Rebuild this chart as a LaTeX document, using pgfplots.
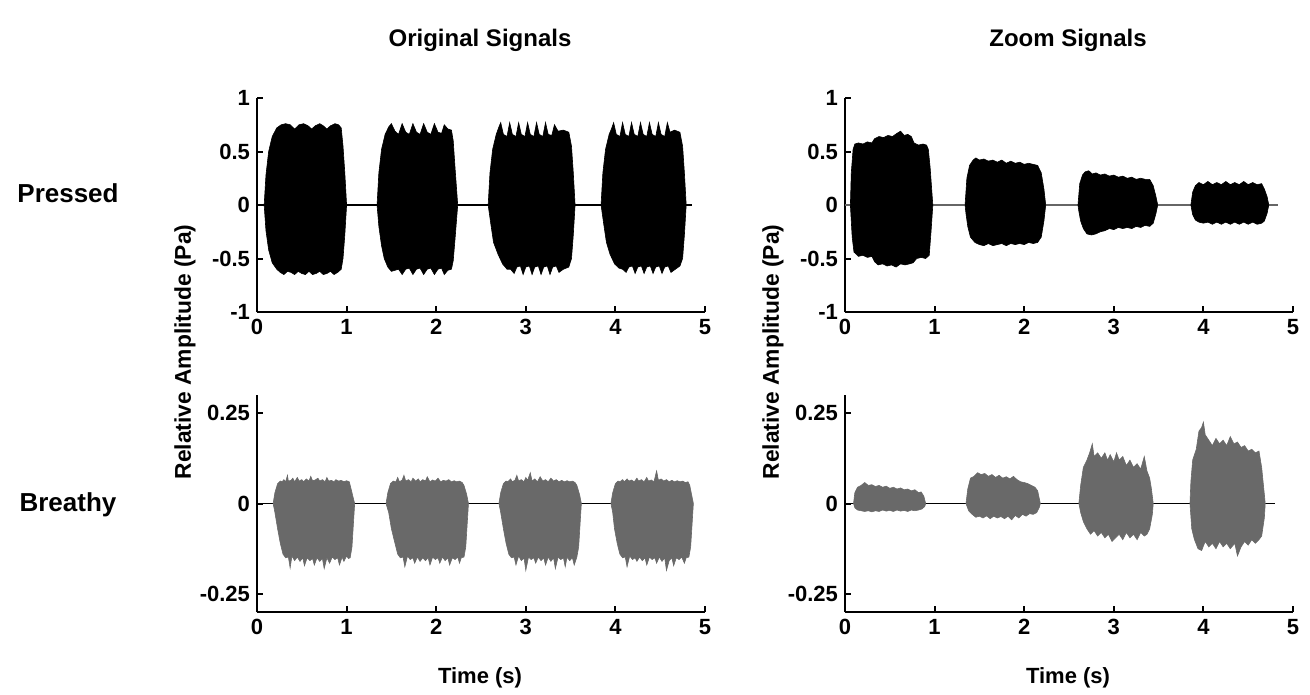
\documentclass[border=0pt]{standalone}
\usepackage{fontspec}
\setmainfont{Liberation Sans}
\usepackage{pgfplots}
\pgfplotsset{compat=1.18}

\definecolor{breathy}{RGB}{105,105,105}
\definecolor{baseline}{RGB}{170,170,170}

% 1 px of the reference = 0.5pt
\pgfplotsset{
  sig/.style={
    scale only axis,
    width=224pt,
    xmin=0, xmax=5,
    axis lines=left,
    axis line style={-, line width=1pt},
    tick align=inside,
    major tick length=3pt,
    tick style={line width=1pt, black},
    xtick={0,1,2,3,4,5},
    xticklabels={0,1,2,3,4,5},
    ticklabel style={font=\bfseries\fontsize{11}{13}\selectfont},
    clip=false,
  },
  pressed/.style={sig, height=107pt, ymin=-1, ymax=1,
    ytick={-1,-0.5,0,0.5,1}, yticklabels={-1,-0.5,0,0.5,1}},
  breathy/.style={sig, height=108.5pt, ymin=-0.3, ymax=0.3,
    ytick={-0.25,0,0.25}, yticklabels={-0.25,0,0.25}},
  env/.style={fill=#1, draw=#1, line width=0.3pt},
}

\begin{document}
\begin{tikzpicture}
\path (0,0) rectangle (655pt,-346pt);

% ---------------- Pressed, original ----------------
\begin{axis}[pressed, at={(128.5pt,-156pt)}]
\addplot[black, line width=0.75pt] coordinates {(0,0) (4.86,0)};
\addplot[env=black] coordinates {
(0.08,0)(0.10,0.28)(0.13,0.50)(0.17,0.64)(0.22,0.72)(0.27,0.75)(0.32,0.76)(0.37,0.75)(0.42,0.71)(0.47,0.75)(0.52,0.76)(0.57,0.74)(0.61,0.71)(0.65,0.74)(0.70,0.76)(0.74,0.74)(0.78,0.71)(0.82,0.74)(0.87,0.76)(0.91,0.75)(0.94,0.72)(0.96,0.55)(0.98,0.30)(1.00,0)
(0.98,-0.28)(0.96,-0.50)(0.94,-0.60)(0.90,-0.63)(0.86,-0.65)(0.82,-0.62)(0.78,-0.64)(0.74,-0.65)(0.70,-0.62)(0.66,-0.64)(0.62,-0.65)(0.58,-0.62)(0.54,-0.65)(0.50,-0.64)(0.46,-0.62)(0.42,-0.65)(0.38,-0.63)(0.34,-0.62)(0.30,-0.65)(0.26,-0.63)(0.22,-0.60)(0.17,-0.54)(0.13,-0.42)(0.10,-0.24)
} -- cycle;
\addplot[env=black] coordinates {
(1.34,0)(1.36,0.30)(1.39,0.52)(1.43,0.66)(1.47,0.73)(1.50,0.76)(1.54,0.69)(1.58,0.66)(1.62,0.76)(1.66,0.68)(1.70,0.66)(1.74,0.76)(1.78,0.68)(1.82,0.66)(1.86,0.76)(1.90,0.68)(1.94,0.66)(1.98,0.76)(2.02,0.68)(2.06,0.67)(2.09,0.75)(2.13,0.71)(2.17,0.70)(2.19,0.60)(2.21,0.35)(2.24,0)
(2.21,-0.32)(2.19,-0.52)(2.17,-0.60)(2.13,-0.61)(2.09,-0.65)(2.06,-0.59)(2.02,-0.60)(1.98,-0.65)(1.94,-0.59)(1.90,-0.60)(1.86,-0.65)(1.82,-0.59)(1.78,-0.60)(1.74,-0.65)(1.70,-0.59)(1.66,-0.60)(1.62,-0.65)(1.58,-0.60)(1.54,-0.61)(1.50,-0.62)(1.46,-0.58)(1.42,-0.50)(1.39,-0.38)(1.36,-0.20)
} -- cycle;
\addplot[env=black] coordinates {
(2.58,0)(2.60,0.30)(2.63,0.52)(2.67,0.66)(2.70,0.73)(2.72,0.77)(2.75,0.66)(2.79,0.64)(2.82,0.77)(2.85,0.66)(2.89,0.64)(2.92,0.77)(2.95,0.66)(2.99,0.64)(3.02,0.77)(3.05,0.66)(3.09,0.64)(3.12,0.77)(3.15,0.66)(3.19,0.64)(3.22,0.77)(3.25,0.66)(3.29,0.65)(3.32,0.75)(3.36,0.69)(3.42,0.70)(3.48,0.68)(3.51,0.55)(3.53,0.30)(3.55,0)
(3.53,-0.28)(3.51,-0.50)(3.48,-0.58)(3.42,-0.60)(3.37,-0.63)(3.34,-0.57)(3.30,-0.58)(3.27,-0.65)(3.24,-0.57)(3.20,-0.58)(3.17,-0.65)(3.14,-0.57)(3.10,-0.58)(3.07,-0.65)(3.04,-0.57)(3.00,-0.58)(2.97,-0.65)(2.94,-0.57)(2.90,-0.58)(2.87,-0.64)(2.83,-0.60)(2.79,-0.60)(2.74,-0.55)(2.69,-0.46)(2.64,-0.35)(2.61,-0.18)
} -- cycle;
\addplot[env=black] coordinates {
(3.84,0)(3.86,0.30)(3.89,0.52)(3.93,0.66)(3.96,0.72)(3.98,0.77)(4.01,0.66)(4.05,0.64)(4.08,0.77)(4.11,0.66)(4.15,0.64)(4.18,0.77)(4.21,0.66)(4.25,0.64)(4.28,0.77)(4.31,0.66)(4.35,0.64)(4.38,0.77)(4.41,0.66)(4.45,0.64)(4.48,0.77)(4.51,0.66)(4.55,0.64)(4.58,0.77)(4.61,0.68)(4.66,0.70)(4.72,0.68)(4.75,0.55)(4.77,0.30)(4.79,0)
(4.77,-0.28)(4.75,-0.50)(4.72,-0.57)(4.67,-0.60)(4.62,-0.63)(4.59,-0.57)(4.55,-0.58)(4.52,-0.64)(4.49,-0.57)(4.45,-0.58)(4.42,-0.64)(4.39,-0.57)(4.35,-0.58)(4.32,-0.64)(4.29,-0.57)(4.25,-0.58)(4.22,-0.64)(4.19,-0.57)(4.15,-0.58)(4.12,-0.63)(4.08,-0.60)(4.04,-0.59)(3.99,-0.55)(3.94,-0.46)(3.90,-0.35)(3.87,-0.18)
} -- cycle;
\end{axis}

% ---------------- Pressed, zoom ----------------
\begin{axis}[pressed, at={(422.5pt,-156pt)}]
\addplot[black!60, line width=0.75pt] coordinates {(0,0) (4.83,0)};
\addplot[env=black] coordinates {
(0.06,0)(0.07,0.30)(0.09,0.52)(0.11,0.57)(0.15,0.58)(0.20,0.57)(0.25,0.59)(0.30,0.58)(0.33,0.62)(0.38,0.64)(0.43,0.63)(0.48,0.65)(0.53,0.64)(0.58,0.67)(0.62,0.69)(0.66,0.65)(0.70,0.66)(0.74,0.64)(0.77,0.58)(0.82,0.56)(0.87,0.57)(0.91,0.56)(0.93,0.52)(0.95,0.35)(0.98,0)
(0.96,-0.25)(0.94,-0.47)(0.90,-0.50)(0.85,-0.49)(0.80,-0.50)(0.76,-0.54)(0.72,-0.55)(0.67,-0.56)(0.62,-0.55)(0.57,-0.58)(0.52,-0.56)(0.47,-0.57)(0.42,-0.55)(0.37,-0.56)(0.33,-0.53)(0.30,-0.48)(0.25,-0.49)(0.20,-0.47)(0.15,-0.48)(0.10,-0.44)(0.08,-0.30)(0.07,-0.15)
} -- cycle;
\addplot[env=black] coordinates {
(1.34,0)(1.36,0.25)(1.39,0.37)(1.43,0.42)(1.46,0.44)(1.50,0.42)(1.55,0.43)(1.60,0.41)(1.65,0.42)(1.70,0.40)(1.75,0.42)(1.80,0.39)(1.85,0.41)(1.90,0.39)(1.95,0.40)(2.00,0.38)(2.05,0.39)(2.10,0.38)(2.15,0.37)(2.19,0.30)(2.22,0.15)(2.24,0)
(2.22,-0.15)(2.19,-0.30)(2.15,-0.35)(2.10,-0.36)(2.05,-0.35)(2.00,-0.37)(1.95,-0.36)(1.90,-0.37)(1.85,-0.36)(1.80,-0.38)(1.75,-0.36)(1.70,-0.37)(1.65,-0.38)(1.60,-0.36)(1.55,-0.38)(1.50,-0.37)(1.45,-0.35)(1.40,-0.30)(1.37,-0.20)(1.35,-0.08)
} -- cycle;
\addplot[env=black] coordinates {
(2.60,0)(2.62,0.20)(2.65,0.28)(2.68,0.31)(2.72,0.32)(2.76,0.29)(2.80,0.30)(2.85,0.28)(2.90,0.29)(2.95,0.27)(3.00,0.28)(3.05,0.26)(3.10,0.27)(3.15,0.25)(3.20,0.26)(3.25,0.24)(3.30,0.25)(3.35,0.24)(3.40,0.24)(3.44,0.18)(3.47,0.08)(3.49,0)
(3.47,-0.08)(3.44,-0.17)(3.40,-0.20)(3.35,-0.19)(3.30,-0.21)(3.25,-0.20)(3.20,-0.22)(3.15,-0.21)(3.10,-0.22)(3.05,-0.21)(3.00,-0.23)(2.95,-0.22)(2.90,-0.24)(2.85,-0.25)(2.80,-0.27)(2.75,-0.28)(2.70,-0.27)(2.66,-0.22)(2.63,-0.15)(2.61,-0.06)
} -- cycle;
\addplot[env=black] coordinates {
(3.86,0)(3.88,0.12)(3.91,0.18)(3.95,0.21)(4.00,0.19)(4.05,0.22)(4.10,0.19)(4.15,0.21)(4.20,0.19)(4.25,0.22)(4.30,0.19)(4.35,0.21)(4.40,0.19)(4.45,0.22)(4.50,0.19)(4.55,0.21)(4.60,0.19)(4.65,0.20)(4.68,0.15)(4.71,0.08)(4.73,0)
(4.71,-0.08)(4.68,-0.15)(4.65,-0.17)(4.60,-0.18)(4.55,-0.16)(4.50,-0.18)(4.45,-0.16)(4.40,-0.18)(4.35,-0.16)(4.30,-0.18)(4.25,-0.16)(4.20,-0.18)(4.15,-0.16)(4.10,-0.18)(4.05,-0.16)(4.00,-0.17)(3.95,-0.16)(3.91,-0.14)(3.88,-0.09)
} -- cycle;
\end{axis}

% ---------------- Breathy, original ----------------
\begin{axis}[breathy, at={(128.5pt,-306pt)}]
\addplot[baseline, line width=0.75pt] coordinates {(0,0) (4.87,0)};
\addplot[env=breathy] coordinates {
(0.18,0)(0.20,0.03)(0.23,0.055)(0.26,0.062)(0.28,0.06)(0.30,0.066)(0.32,0.06)(0.34,0.078)(0.35,0.062)(0.38,0.064)(0.40,0.07)(0.42,0.06)(0.45,0.072)(0.47,0.062)(0.50,0.066)(0.52,0.06)(0.55,0.068)(0.58,0.062)(0.60,0.075)(0.62,0.063)(0.65,0.065)(0.68,0.07)(0.70,0.062)(0.73,0.066)(0.76,0.06)(0.78,0.072)(0.80,0.062)(0.83,0.064)(0.86,0.06)(0.88,0.066)(0.91,0.062)(0.94,0.064)(0.97,0.06)(1.00,0.063)(1.03,0.06)(1.06,0.03)(1.09,0)
(1.08,-0.04)(1.06,-0.12)(1.04,-0.15)(1.02,-0.152)(1.00,-0.145)(0.97,-0.16)(0.95,-0.148)(0.92,-0.17)(0.90,-0.15)(0.87,-0.155)(0.84,-0.148)(0.81,-0.165)(0.78,-0.15)(0.75,-0.18)(0.73,-0.152)(0.70,-0.16)(0.67,-0.15)(0.64,-0.17)(0.62,-0.152)(0.59,-0.158)(0.56,-0.15)(0.53,-0.172)(0.51,-0.15)(0.48,-0.16)(0.45,-0.148)(0.42,-0.158)(0.39,-0.145)(0.37,-0.178)(0.35,-0.148)(0.32,-0.15)(0.29,-0.14)(0.26,-0.11)(0.23,-0.07)(0.20,-0.025)
} -- cycle;
\addplot[env=breathy] coordinates {
(1.44,0)(1.46,0.03)(1.49,0.055)(1.52,0.062)(1.55,0.06)(1.57,0.072)(1.59,0.06)(1.62,0.065)(1.64,0.078)(1.66,0.062)(1.69,0.066)(1.72,0.06)(1.74,0.07)(1.77,0.062)(1.80,0.068)(1.82,0.06)(1.85,0.066)(1.88,0.062)(1.90,0.074)(1.93,0.06)(1.96,0.065)(1.99,0.062)(2.02,0.07)(2.05,0.06)(2.08,0.064)(2.11,0.062)(2.14,0.066)(2.17,0.06)(2.20,0.063)(2.23,0.06)(2.26,0.062)(2.29,0.058)(2.31,0.05)(2.34,0.025)(2.36,0)
(2.35,-0.04)(2.33,-0.12)(2.31,-0.148)(2.28,-0.15)(2.26,-0.165)(2.24,-0.148)(2.21,-0.155)(2.18,-0.15)(2.15,-0.17)(2.13,-0.15)(2.10,-0.158)(2.07,-0.148)(2.04,-0.165)(2.02,-0.15)(1.99,-0.155)(1.96,-0.148)(1.93,-0.17)(1.91,-0.15)(1.88,-0.158)(1.85,-0.15)(1.82,-0.16)(1.79,-0.148)(1.76,-0.165)(1.74,-0.15)(1.71,-0.155)(1.68,-0.145)(1.65,-0.175)(1.63,-0.148)(1.60,-0.15)(1.57,-0.14)(1.54,-0.11)(1.50,-0.07)(1.47,-0.025)
} -- cycle;
\addplot[env=breathy] coordinates {
(2.70,0)(2.72,0.03)(2.75,0.055)(2.78,0.062)(2.80,0.06)(2.83,0.068)(2.85,0.06)(2.88,0.065)(2.90,0.078)(2.92,0.062)(2.95,0.066)(2.98,0.06)(3.00,0.072)(3.02,0.064)(3.05,0.085)(3.07,0.062)(3.10,0.068)(3.13,0.06)(3.16,0.074)(3.19,0.062)(3.22,0.066)(3.25,0.06)(3.28,0.07)(3.31,0.062)(3.34,0.066)(3.37,0.06)(3.40,0.064)(3.43,0.06)(3.46,0.063)(3.49,0.06)(3.52,0.062)(3.55,0.058)(3.57,0.05)(3.60,0.025)(3.62,0)
(3.61,-0.04)(3.59,-0.12)(3.57,-0.148)(3.54,-0.17)(3.52,-0.15)(3.49,-0.158)(3.46,-0.148)(3.44,-0.175)(3.42,-0.15)(3.39,-0.155)(3.36,-0.148)(3.33,-0.18)(3.31,-0.15)(3.28,-0.16)(3.25,-0.148)(3.22,-0.17)(3.20,-0.15)(3.17,-0.158)(3.14,-0.148)(3.11,-0.165)(3.09,-0.15)(3.06,-0.155)(3.03,-0.148)(3.00,-0.185)(2.98,-0.15)(2.95,-0.158)(2.92,-0.145)(2.89,-0.17)(2.87,-0.148)(2.84,-0.15)(2.81,-0.14)(2.78,-0.11)(2.75,-0.07)(2.72,-0.025)
} -- cycle;
\addplot[env=breathy] coordinates {
(3.95,0)(3.97,0.03)(4.00,0.055)(4.03,0.062)(4.05,0.06)(4.08,0.066)(4.10,0.06)(4.13,0.068)(4.15,0.062)(4.18,0.065)(4.21,0.06)(4.24,0.07)(4.26,0.062)(4.29,0.066)(4.32,0.06)(4.35,0.072)(4.37,0.062)(4.40,0.065)(4.43,0.06)(4.46,0.09)(4.48,0.064)(4.51,0.068)(4.54,0.062)(4.57,0.066)(4.60,0.06)(4.63,0.064)(4.66,0.06)(4.69,0.063)(4.72,0.06)(4.75,0.062)(4.78,0.058)(4.81,0.06)(4.83,0.05)(4.85,0.025)(4.87,0)
(4.86,-0.04)(4.84,-0.12)(4.82,-0.148)(4.79,-0.15)(4.77,-0.165)(4.74,-0.148)(4.71,-0.155)(4.68,-0.15)(4.65,-0.172)(4.63,-0.15)(4.60,-0.158)(4.57,-0.185)(4.55,-0.15)(4.52,-0.16)(4.49,-0.148)(4.46,-0.165)(4.44,-0.15)(4.41,-0.155)(4.38,-0.148)(4.35,-0.17)(4.33,-0.15)(4.30,-0.158)(4.27,-0.148)(4.24,-0.16)(4.22,-0.15)(4.19,-0.155)(4.16,-0.145)(4.13,-0.175)(4.11,-0.148)(4.08,-0.15)(4.05,-0.14)(4.02,-0.11)(3.99,-0.07)(3.97,-0.025)
} -- cycle;
\end{axis}

% ---------------- Breathy, zoom ----------------
\begin{axis}[breathy, at={(422.5pt,-306pt)}]
\addplot[baseline, line width=0.75pt] coordinates {(0,0) (4.80,0)};
\addplot[env=breathy] coordinates {
(0.095,0)(0.11,0.03)(0.14,0.045)(0.18,0.05)(0.22,0.058)(0.26,0.05)(0.30,0.052)(0.34,0.047)(0.38,0.05)(0.42,0.045)(0.46,0.048)(0.50,0.042)(0.54,0.045)(0.58,0.04)(0.62,0.043)(0.66,0.038)(0.70,0.04)(0.74,0.035)(0.78,0.038)(0.82,0.03)(0.85,0.032)(0.88,0.02)(0.90,0)
(0.89,-0.008)(0.86,-0.015)(0.82,-0.018)(0.78,-0.02)(0.74,-0.018)(0.70,-0.022)(0.66,-0.019)(0.62,-0.021)(0.58,-0.018)(0.54,-0.022)(0.50,-0.019)(0.46,-0.021)(0.42,-0.018)(0.38,-0.022)(0.34,-0.02)(0.30,-0.023)(0.26,-0.02)(0.22,-0.022)(0.18,-0.02)(0.14,-0.018)(0.11,-0.012)
} -- cycle;
\addplot[env=breathy] coordinates {
(1.35,0)(1.37,0.04)(1.40,0.07)(1.44,0.075)(1.48,0.085)(1.52,0.08)(1.56,0.083)(1.60,0.075)(1.64,0.08)(1.68,0.072)(1.72,0.078)(1.76,0.07)(1.80,0.074)(1.84,0.068)(1.88,0.075)(1.92,0.066)(1.96,0.06)(2.00,0.058)(2.04,0.055)(2.08,0.05)(2.12,0.045)(2.15,0.035)(2.18,0)
(2.17,-0.01)(2.14,-0.025)(2.10,-0.03)(2.06,-0.028)(2.02,-0.035)(1.98,-0.03)(1.94,-0.04)(1.90,-0.033)(1.86,-0.045)(1.82,-0.035)(1.78,-0.042)(1.74,-0.036)(1.70,-0.04)(1.66,-0.035)(1.62,-0.042)(1.58,-0.034)(1.54,-0.04)(1.50,-0.035)(1.46,-0.038)(1.42,-0.03)(1.38,-0.02)
} -- cycle;
\addplot[env=breathy] coordinates {
(2.61,0)(2.63,0.05)(2.66,0.10)(2.70,0.12)(2.73,0.14)(2.76,0.165)(2.78,0.13)(2.82,0.14)(2.86,0.125)(2.90,0.14)(2.93,0.12)(2.96,0.135)(3.00,0.115)(3.03,0.14)(3.06,0.12)(3.10,0.13)(3.14,0.105)(3.18,0.12)(3.22,0.10)(3.26,0.11)(3.30,0.095)(3.34,0.13)(3.37,0.09)(3.40,0.07)(3.42,0.04)(3.44,0)
(3.43,-0.03)(3.40,-0.07)(3.37,-0.085)(3.34,-0.09)(3.30,-0.08)(3.26,-0.10)(3.22,-0.085)(3.18,-0.095)(3.14,-0.08)(3.10,-0.10)(3.06,-0.085)(3.02,-0.095)(2.98,-0.105)(2.94,-0.085)(2.90,-0.095)(2.86,-0.08)(2.82,-0.09)(2.78,-0.075)(2.74,-0.085)(2.70,-0.07)(2.66,-0.05)(2.63,-0.025)
} -- cycle;
\addplot[env=breathy] coordinates {
(3.85,0)(3.86,0.06)(3.88,0.12)(3.92,0.15)(3.95,0.20)(3.98,0.21)(4.00,0.225)(4.02,0.19)(4.06,0.175)(4.10,0.16)(4.14,0.18)(4.18,0.165)(4.22,0.175)(4.26,0.16)(4.30,0.185)(4.34,0.165)(4.38,0.17)(4.42,0.155)(4.46,0.16)(4.50,0.145)(4.54,0.15)(4.58,0.14)(4.62,0.145)(4.65,0.10)(4.67,0.05)(4.69,0)
(4.68,-0.04)(4.65,-0.09)(4.62,-0.10)(4.58,-0.11)(4.54,-0.10)(4.50,-0.115)(4.46,-0.105)(4.42,-0.12)(4.38,-0.145)(4.35,-0.11)(4.30,-0.125)(4.26,-0.11)(4.22,-0.12)(4.18,-0.105)(4.14,-0.125)(4.10,-0.11)(4.06,-0.12)(4.02,-0.105)(3.98,-0.13)(3.94,-0.125)(3.90,-0.10)(3.87,-0.07)
} -- cycle;
\end{axis}

% labels
\begin{scope}[every node/.style={font=\bfseries\fontsize{11}{13}\selectfont}]
\node[font=\bfseries\fontsize{12}{14}\selectfont] at (240pt,-20pt) {Original Signals};
\node[font=\bfseries\fontsize{12}{14}\selectfont] at (534pt,-20pt) {Zoom Signals};
\node[font=\bfseries\fontsize{13}{15}\selectfont] at (34pt,-96.5pt) {Pressed};
\node[font=\bfseries\fontsize{13}{15}\selectfont] at (34pt,-252.5pt) {Breathy};
\node[rotate=90, font=\bfseries\fontsize{11.4}{13}\selectfont] at (92.5pt,-176pt) {Relative Amplitude (Pa)};
\node[rotate=90, font=\bfseries\fontsize{11.4}{13}\selectfont] at (386.5pt,-176pt) {Relative Amplitude (Pa)};
\node at (240pt,-339pt) {Time (s)};
\node at (534pt,-339pt) {Time (s)};
\end{scope}
\end{tikzpicture}
\end{document}
